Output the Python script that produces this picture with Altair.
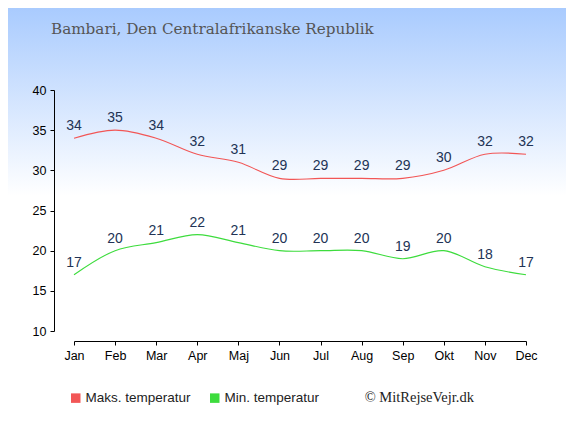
import altair as alt
import pandas as pd

months = ["Jan", "Feb", "Mar", "Apr", "Maj", "Jun", "Jul", "Aug", "Sep", "Okt", "Nov", "Dec"]
max_temp = [34, 35, 34, 32, 31, 29, 29, 29, 29, 30, 32, 32]
min_temp = [17, 20, 21, 22, 21, 20, 20, 20, 19, 20, 18, 17]
series_names = ["Maks. temperatur", "Min. temperatur"]
series_colors = ["#f25656", "#3ddc3d"]
y_ticks = [10, 15, 20, 25, 30, 35, 40]
title_text = "Bambari, Den Centralafrikanske Republik"
credit_text = "© MitRejseVejr.dk"

rows = []
for i, m in enumerate(months):
    rows.append({"month": m, "order": i, "series": series_names[0], "temp": max_temp[i]})
    rows.append({"month": m, "order": i, "series": series_names[1], "temp": min_temp[i]})
df = pd.DataFrame(rows)

W, H = 452, 241
PAD = {"left": 66, "top": 82, "right": 40, "bottom": 86}

x_enc = alt.X("month:O", sort=months,
              scale=alt.Scale(type="point", padding=0),
              axis=alt.Axis(title=None, labelAngle=0, offset=10, domainColor="black",
                            tickColor="black", tickSize=4, labelColor="black",
                            labelFontSize=12.5, labelFont="Liberation Sans", labelPadding=4,
                            zindex=1))
y_enc = alt.Y("temp:Q", scale=alt.Scale(domain=[10, 40], nice=False),
              axis=alt.Axis(title=None, values=y_ticks, grid=False, offset=20,
                            domainColor="black", tickColor="black", tickSize=4,
                            labelColor="black", labelFontSize=12.5,
                            labelFont="Liberation Sans", labelPadding=4, zindex=1))

bg = alt.Chart(pd.DataFrame({"a": [0]})).mark_rect(
    clip=False,
    fill=alt.Gradient(gradient="linear", x1=0, y1=0, x2=0, y2=1,
                      stops=[alt.GradientStop(offset=0, color="#a9cbfe"),
                             alt.GradientStop(offset=0.46, color="#ffffff"),
                             alt.GradientStop(offset=1, color="#ffffff")])
).encode(x=alt.value(-PAD["left"]), x2=alt.value(W + PAD["right"]),
         y=alt.value(-PAD["top"]), y2=alt.value(H + PAD["bottom"]))

lines = alt.Chart(df).mark_line(interpolate="catmull-rom", strokeWidth=1.1).encode(
    x=x_enc, y=y_enc,
    color=alt.Color("series:N", scale=alt.Scale(domain=series_names, range=series_colors),
                    legend=alt.Legend(title=None, orient="none", legendX=-5, legendY=301,
                                      direction="horizontal", symbolType="square",
                                      symbolSize=1, symbolStrokeWidth=8.5,
                                      symbolOpacity=1, labelFontSize=13.5,
                                      labelFont="Liberation Sans", labelColor="#222222",
                                      columnPadding=6, labelOffset=3, padding=0)),
    detail="series:N")

labels = alt.Chart(df).mark_text(dy=-8, baseline="alphabetic", fontSize=14,
                                 font="Liberation Sans", color="#223355").encode(
    x=alt.X("month:O", sort=months), y="temp:Q", text="temp:Q")

title = alt.Chart(pd.DataFrame({"t": [title_text]})).mark_text(
    align="left", baseline="middle", font="DejaVu Serif", fontSize=15.2,
    color="#555555", clip=False).encode(x=alt.value(-23), y=alt.value(-61), text="t:N")

credit = alt.Chart(pd.DataFrame({"t": [credit_text]})).mark_text(
    align="right", baseline="middle", font="Liberation Serif", fontSize=14.5,
    color="#222222", clip=False).encode(x=alt.value(400), y=alt.value(308), text="t:N")

chart = alt.layer(bg, lines, labels, title, credit).properties(
    width=W, height=H, padding=PAD,
    autosize=alt.AutoSizeParams(type="none"),
).configure_view(stroke=None).configure(background="white")

chart.save("out.html", embed_options={"renderer": "svg", "actions": False})
